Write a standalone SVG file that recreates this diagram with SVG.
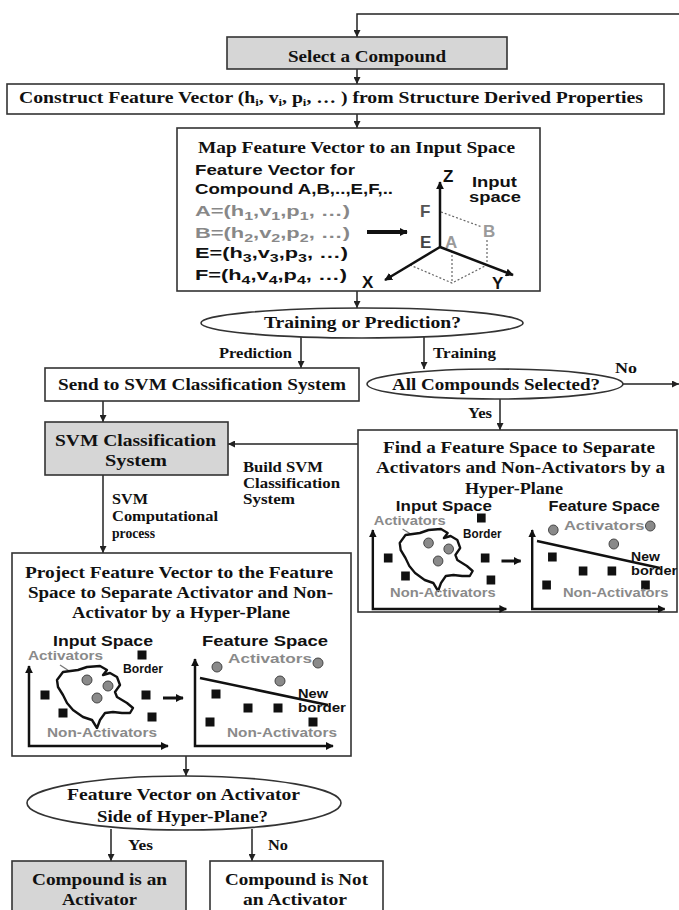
<svg xmlns="http://www.w3.org/2000/svg" width="679" height="910" viewBox="0 0 679 910">
<style>
.box{fill:#fff;stroke:#333;stroke-width:1.6}
.gbox{fill:#d6d6d6;stroke:#333;stroke-width:1.6}
.ell{fill:#fff;stroke:#333;stroke-width:1.6}
.t{font-family:"Liberation Serif","Times New Roman",serif;font-weight:bold;font-size:17px;fill:#111}
.l{font-family:"Liberation Serif","Times New Roman",serif;font-weight:bold;font-size:15px;fill:#111}
.ls{font-family:"Liberation Serif","Times New Roman",serif;font-weight:bold;font-size:14px;fill:#111}
.a{font-family:"Liberation Sans",Arial,sans-serif;font-weight:bold;font-size:15px;fill:#111}
.ag{font-family:"Liberation Sans",Arial,sans-serif;font-weight:bold;font-size:15px;fill:#888}
.sp{font-family:"Liberation Sans",Arial,sans-serif;font-weight:bold;font-size:14px;fill:#111}
.gs{font-family:"Liberation Sans",Arial,sans-serif;font-weight:bold;font-size:13px;fill:#8a8a8a}
.bs{font-family:"Liberation Sans",Arial,sans-serif;font-weight:bold;font-size:12.5px;fill:#111}
.ax{font-family:"Liberation Sans",Arial,sans-serif;font-weight:bold;font-size:17px}
.conn{fill:none;stroke:#222;stroke-width:1.5;marker-end:url(#ah)}
.thick{fill:none;stroke:#111;stroke-width:2.5}
.dash{fill:none;stroke:#666;stroke-width:1.2;stroke-dasharray:2 2}
.dot{fill:#8a8a8a;stroke:#444;stroke-width:1}
.blob{fill:#fff;stroke:#111;stroke-width:2.4;stroke-linejoin:round}
</style>
<defs>
<marker id="ah" viewBox="0 0 10 10" refX="10" refY="5" markerWidth="7" markerHeight="7" markerUnits="userSpaceOnUse" orient="auto"><path d="M0,0 L10,5 L0,10 z" fill="#222"/></marker>
<marker id="ah2" viewBox="0 0 10 10" refX="9" refY="5" markerWidth="8" markerHeight="8" markerUnits="userSpaceOnUse" orient="auto-start-reverse"><path d="M0,0 L10,5 L0,10 z" fill="#111"/></marker>
<marker id="ah3" viewBox="0 0 10 10" refX="9" refY="5" markerWidth="5" markerHeight="5" markerUnits="userSpaceOnUse" orient="auto"><path d="M0,0 L10,5 L0,10 z" fill="#777"/></marker>
<rect id="sq" x="-4.5" y="-4.5" width="9" height="9" fill="#111"/>
<path id="blob" d="M57,680 L63,672 L78,670 L87,667 L100,666 L107,670 L103,675 L110,673 L117,677 L120,685 L115,692 L117,697 L127,703 L133,708 L130,713 L122,713 L113,712 L105,713 L100,720 L97,728 L92,720 L83,717 L73,710 L67,703 L63,695 L58,687 Z"/>
</defs>

<g id="connectors">
<path class="conn" d="M679,14 H357 V37"/>
<path class="conn" d="M357,69 V84"/>
<path class="conn" d="M357,114 V128"/>
<path class="conn" d="M357,291 V308"/>
<path class="conn" d="M301,337 V368"/>
<path class="conn" d="M424,337 V369"/>
<path class="conn" d="M623,384 H679"/>
<path class="conn" d="M500,399 V430"/>
<path class="conn" d="M103,401 V422"/>
<path class="conn" d="M358,444 H228"/>
<path class="conn" d="M103,475 V553"/>
<path class="conn" d="M186,756 V776"/>
<path class="conn" d="M111,829 V861"/>
<path class="conn" d="M252,829 V861"/>
<text class="l" x="219" y="358" textLength="73" lengthAdjust="spacingAndGlyphs">Prediction</text>
<text class="l" x="433" y="358" textLength="63" lengthAdjust="spacingAndGlyphs">Training</text>
<text class="l" x="615" y="373" textLength="22" lengthAdjust="spacingAndGlyphs">No</text>
<text class="l" x="468" y="418" textLength="24" lengthAdjust="spacingAndGlyphs">Yes</text>
<text class="ls" x="243" y="472" textLength="80" lengthAdjust="spacingAndGlyphs">Build SVM</text>
<text class="ls" x="243" y="488" textLength="97" lengthAdjust="spacingAndGlyphs">Classification</text>
<text class="ls" x="243" y="504" textLength="52" lengthAdjust="spacingAndGlyphs">System</text>
<text class="ls" x="112" y="504" textLength="36" lengthAdjust="spacingAndGlyphs">SVM</text>
<text class="ls" x="112" y="521" textLength="106" lengthAdjust="spacingAndGlyphs">Computational</text>
<text class="ls" x="112" y="538" textLength="43" lengthAdjust="spacingAndGlyphs">process</text>
<text class="l" x="128" y="850" textLength="25" lengthAdjust="spacingAndGlyphs">Yes</text>
<text class="l" x="268" y="850" textLength="20" lengthAdjust="spacingAndGlyphs">No</text>
</g>

<g id="select">
<rect class="gbox" x="227" y="37" width="280" height="32"/>
<text class="t" x="288" y="62" textLength="158" lengthAdjust="spacingAndGlyphs">Select a Compound</text>
</g>

<g id="construct">
<rect class="box" x="7" y="84" width="657" height="30"/>
<text class="t" x="19" y="103" textLength="624" lengthAdjust="spacingAndGlyphs">Construct Feature Vector (h<tspan dy="3" font-size="11">i</tspan><tspan dy="-3">, v</tspan><tspan dy="3" font-size="11">i</tspan><tspan dy="-3">, p</tspan><tspan dy="3" font-size="11">i</tspan><tspan dy="-3">, … ) from Structure Derived Properties</tspan></text>
</g>

<g id="map">
<rect class="box" x="177" y="128" width="363" height="163"/>
<text class="t" x="198" y="153" textLength="317" lengthAdjust="spacingAndGlyphs">Map Feature Vector to an Input Space</text>
<text class="a" x="195" y="175" textLength="160" lengthAdjust="spacingAndGlyphs">Feature Vector for</text>
<text class="a" x="195" y="194" textLength="198" lengthAdjust="spacingAndGlyphs">Compound A,B,..,E,F,..</text>
<text class="ag" x="195" y="216" textLength="155" lengthAdjust="spacingAndGlyphs">A=(h<tspan dy="4" font-size="11">1</tspan><tspan dy="-4">,v</tspan><tspan dy="4" font-size="11">1</tspan><tspan dy="-4">,p</tspan><tspan dy="4" font-size="11">1</tspan><tspan dy="-4">, …)</tspan></text>
<text class="ag" x="195" y="238" textLength="155" lengthAdjust="spacingAndGlyphs">B=(h<tspan dy="4" font-size="11">2</tspan><tspan dy="-4">,v</tspan><tspan dy="4" font-size="11">2</tspan><tspan dy="-4">,p</tspan><tspan dy="4" font-size="11">2</tspan><tspan dy="-4">, …)</tspan></text>
<text class="a" x="195" y="258" textLength="153" lengthAdjust="spacingAndGlyphs">E=(h<tspan dy="4" font-size="11">3</tspan><tspan dy="-4">,v</tspan><tspan dy="4" font-size="11">3</tspan><tspan dy="-4">,p</tspan><tspan dy="4" font-size="11">3</tspan><tspan dy="-4">, …)</tspan></text>
<text class="a" x="195" y="280" textLength="152" lengthAdjust="spacingAndGlyphs">F=(h<tspan dy="4" font-size="11">4</tspan><tspan dy="-4">,v</tspan><tspan dy="4" font-size="11">4</tspan><tspan dy="-4">,p</tspan><tspan dy="4" font-size="11">4</tspan><tspan dy="-4">, …)</tspan></text>
<path d="M367,232 H407" fill="none" stroke="#111" stroke-width="4" marker-end="url(#ah2)"/>
<path class="dash" d="M441,212 L482,227 M487,240 V265 M452,251 V283 M410,265 L452,283 L487,265"/>
<path class="thick" d="M440,247 V182" marker-end="url(#ah2)"/>
<path class="thick" d="M440,247 L385,280" marker-end="url(#ah2)"/>
<path class="thick" d="M440,247 L513,275" marker-end="url(#ah2)"/>
<text class="ax" x="443" y="182" fill="#111">Z</text>
<text class="ax" x="362" y="288" fill="#111">X</text>
<text class="ax" x="492" y="289" fill="#111">Y</text>
<text class="ax" x="420" y="217" fill="#555">F</text>
<text class="ax" x="420" y="248" fill="#444">E</text>
<text class="ax" x="445" y="248" fill="#9a9a9a">A</text>
<text class="ax" x="483" y="237" fill="#9a9a9a">B</text>
<text class="sp" x="472" y="187" textLength="45" lengthAdjust="spacingAndGlyphs">Input</text>
<text class="sp" x="469" y="202" textLength="52" lengthAdjust="spacingAndGlyphs">space</text>
</g>

<g id="training">
<ellipse class="ell" cx="362" cy="323" rx="161" ry="15"/>
<text class="t" x="264" y="328" textLength="197" lengthAdjust="spacingAndGlyphs">Training or Prediction?</text>
</g>

<g id="send">
<rect class="box" x="45" y="368" width="314" height="33"/>
<text class="t" x="58" y="390" textLength="288" lengthAdjust="spacingAndGlyphs">Send to SVM Classification System</text>
</g>

<g id="allselected">
<ellipse class="ell" cx="495" cy="384" rx="128" ry="15"/>
<text class="t" x="392" y="390" textLength="208" lengthAdjust="spacingAndGlyphs">All Compounds Selected?</text>
</g>

<g id="svm">
<rect class="gbox" x="45" y="422" width="183" height="53"/>
<text class="t" x="55" y="446" textLength="161" lengthAdjust="spacingAndGlyphs">SVM Classification</text>
<text class="t" x="105" y="466" textLength="62" lengthAdjust="spacingAndGlyphs">System</text>
</g>

<g id="find">
<rect class="box" x="358" y="430" width="319" height="182"/>
<text class="t" x="383" y="453" textLength="272" lengthAdjust="spacingAndGlyphs">Find a Feature Space to Separate</text>
<text class="t" x="376" y="473" textLength="289" lengthAdjust="spacingAndGlyphs">Activators and Non-Activators by a</text>
<text class="t" x="465" y="494" textLength="98" lengthAdjust="spacingAndGlyphs">Hyper-Plane</text>
<g transform="translate(345,-137) scale(0.96,1)">
<text class="sp" x="53" y="648" textLength="100" lengthAdjust="spacingAndGlyphs">Input Space</text>
<text class="sp" x="212" y="648" textLength="116" lengthAdjust="spacingAndGlyphs">Feature Space</text>
<text class="gs" x="30" y="662" textLength="75" lengthAdjust="spacingAndGlyphs">Activators</text>
<path d="M60,666 L80,678" stroke="#777" stroke-width="1.3" marker-end="url(#ah3)"/>
<use href="#blob" class="blob"/>
<path class="thick" d="M29,667 V746 H168" marker-start="url(#ah2)" marker-end="url(#ah2)"/>
<path class="thick" d="M195,667 V746 H333" marker-start="url(#ah2)" marker-end="url(#ah2)"/>
<use href="#sq" x="142" y="655"/><use href="#sq" x="45" y="695"/><use href="#sq" x="63" y="713"/><use href="#sq" x="146" y="695"/><use href="#sq" x="152" y="717"/>
<use href="#sq" x="216" y="694"/><use href="#sq" x="248" y="708"/><use href="#sq" x="278" y="708"/><use href="#sq" x="210" y="722"/><use href="#sq" x="313" y="722"/>
<circle class="dot" cx="87" cy="680" r="5"/><circle class="dot" cx="108" cy="686" r="5"/><circle class="dot" cx="97" cy="698" r="5"/>
<circle class="dot" cx="217" cy="667" r="5"/><circle class="dot" cx="318" cy="663" r="5"/><circle class="dot" cx="280" cy="681" r="5"/>
<text class="bs" x="123" y="675" textLength="40" lengthAdjust="spacingAndGlyphs">Border</text>
<path d="M163,698 H183" stroke="#111" stroke-width="3" marker-end="url(#ah2)"/>
<text class="gs" x="47" y="734" textLength="110" lengthAdjust="spacingAndGlyphs">Non-Activators</text>
<text class="gs" x="228" y="667" textLength="84" lengthAdjust="spacingAndGlyphs">Activators</text>
<path d="M200,678 L328,705" stroke="#111" stroke-width="2.5"/>
<text class="bs" x="298" y="698" textLength="30" lengthAdjust="spacingAndGlyphs">New</text>
<text class="bs" x="298" y="712" textLength="48" lengthAdjust="spacingAndGlyphs">border</text>
<text class="gs" x="227" y="734" textLength="110" lengthAdjust="spacingAndGlyphs">Non-Activators</text>
</g>
</g>

<g id="project">
<rect class="box" x="12" y="553" width="339" height="203"/>
<text class="t" x="25" y="578" textLength="308" lengthAdjust="spacingAndGlyphs">Project Feature Vector to the Feature</text>
<text class="t" x="28" y="598" textLength="305" lengthAdjust="spacingAndGlyphs">Space to Separate Activator and Non-</text>
<text class="t" x="72" y="618" textLength="218" lengthAdjust="spacingAndGlyphs">Activator by a Hyper-Plane</text>
<g>
<text class="sp" x="53" y="646" textLength="100" lengthAdjust="spacingAndGlyphs">Input Space</text>
<text class="sp" x="202" y="646" textLength="126" lengthAdjust="spacingAndGlyphs">Feature Space</text>
<text class="gs" x="28" y="660" textLength="75" lengthAdjust="spacingAndGlyphs">Activators</text>
<path d="M60,665 L80,678" stroke="#777" stroke-width="1.3" marker-end="url(#ah3)"/>
<use href="#blob" class="blob"/>
<path class="thick" d="M29,666 V746 H168" marker-start="url(#ah2)" marker-end="url(#ah2)"/>
<path class="thick" d="M195,659 V746 H333" marker-start="url(#ah2)" marker-end="url(#ah2)"/>
<use href="#sq" x="142" y="655"/><use href="#sq" x="45" y="695"/><use href="#sq" x="63" y="713"/><use href="#sq" x="146" y="695"/><use href="#sq" x="152" y="717"/>
<use href="#sq" x="216" y="694"/><use href="#sq" x="248" y="708"/><use href="#sq" x="278" y="708"/><use href="#sq" x="210" y="722"/><use href="#sq" x="313" y="722"/>
<circle class="dot" cx="87" cy="680" r="5"/><circle class="dot" cx="108" cy="686" r="5"/><circle class="dot" cx="97" cy="698" r="5"/>
<circle class="dot" cx="217" cy="667" r="5"/><circle class="dot" cx="318" cy="663" r="5"/><circle class="dot" cx="280" cy="681" r="5"/>
<text class="bs" x="123" y="673" textLength="40" lengthAdjust="spacingAndGlyphs">Border</text>
<path d="M163,698 H183" stroke="#111" stroke-width="3" marker-end="url(#ah2)"/>
<text class="gs" x="47" y="737" textLength="110" lengthAdjust="spacingAndGlyphs">Non-Activators</text>
<text class="gs" x="228" y="663" textLength="84" lengthAdjust="spacingAndGlyphs">Activators</text>
<path d="M200,678 L328,705" stroke="#111" stroke-width="2.5"/>
<text class="bs" x="298" y="698" textLength="30" lengthAdjust="spacingAndGlyphs">New</text>
<text class="bs" x="298" y="712" textLength="48" lengthAdjust="spacingAndGlyphs">border</text>
<text class="gs" x="227" y="737" textLength="110" lengthAdjust="spacingAndGlyphs">Non-Activators</text>
</g>
</g>

<g id="decision">
<ellipse class="ell" cx="184" cy="803" rx="157" ry="27"/>
<text class="t" x="67" y="800" textLength="233" lengthAdjust="spacingAndGlyphs">Feature Vector on Activator</text>
<text class="t" x="97" y="822" textLength="171" lengthAdjust="spacingAndGlyphs">Side of Hyper-Plane?</text>
</g>

<g id="activator">
<rect class="gbox" x="12" y="861" width="174" height="60"/>
<text class="t" x="32" y="885" textLength="135" lengthAdjust="spacingAndGlyphs">Compound is an</text>
<text class="t" x="62" y="905" textLength="75" lengthAdjust="spacingAndGlyphs">Activator</text>
</g>

<g id="notactivator">
<rect class="box" x="210" y="861" width="173" height="60"/>
<text class="t" x="225" y="885" textLength="143" lengthAdjust="spacingAndGlyphs">Compound is Not</text>
<text class="t" x="243" y="905" textLength="104" lengthAdjust="spacingAndGlyphs">an Activator</text>
</g>
</svg>
